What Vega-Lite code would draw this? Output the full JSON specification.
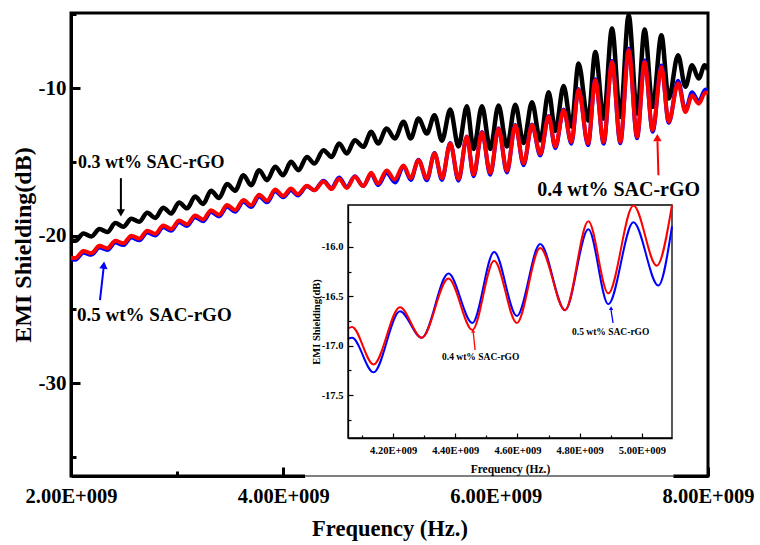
{
 "$schema": "https://vega.github.io/schema/vega-lite/v6.json",
 "width": 637,
 "height": 463,
 "autosize": {"type": "none"},
 "padding": {"left": 71, "top": 13, "right": 52, "bottom": 69},
 "background": "white",
 "config": {
  "view": {"stroke": "black", "strokeWidth": 3},
  "font": "Liberation Serif"
 },
 "datasets": {
  "black": [
   {"f":2.000,"v":-20.30},{"f":2.041,"v":-20.35},{"f":2.117,"v":-19.85},{"f":2.192,"v":-20.05},{"f":2.268,"v":-19.55},{"f":2.343,"v":-19.75},{"f":2.418,"v":-19.15},{"f":2.493,"v":-19.40},{"f":2.568,"v":-18.85},{"f":2.644,"v":-19.05},{"f":2.718,"v":-18.45},{"f":2.794,"v":-18.80},{"f":2.869,"v":-18.10},{"f":2.943,"v":-18.50},{"f":3.018,"v":-17.75},{"f":3.093,"v":-18.15},{"f":3.169,"v":-17.35},{"f":3.244,"v":-17.85},{"f":3.319,"v":-16.95},{"f":3.395,"v":-17.45},{"f":3.470,"v":-16.50},{"f":3.546,"v":-16.95},{"f":3.624,"v":-15.90},{"f":3.697,"v":-16.58},{"f":3.772,"v":-15.56},{"f":3.847,"v":-16.24},{"f":3.923,"v":-15.33},{"f":3.998,"v":-15.90},{"f":4.072,"v":-14.99},{"f":4.142,"v":-15.56},{"f":4.222,"v":-14.66},{"f":4.292,"v":-15.11},{"f":4.378,"v":-14.20},{"f":4.455,"v":-14.66},{"f":4.525,"v":-13.75},{"f":4.598,"v":-14.43},{"f":4.673,"v":-13.53},{"f":4.753,"v":-13.97},{"f":4.828,"v":-12.96},{"f":4.892,"v":-13.75},{"f":4.973,"v":-12.73},{"f":5.050,"v":-13.41},{"f":5.132,"v":-12.28},{"f":5.200,"v":-13.41},{"f":5.273,"v":-12.06},{"f":5.352,"v":-13.07},{"f":5.424,"v":-11.83},{"f":5.494,"v":-13.56},{"f":5.572,"v":-11.45},{"f":5.650,"v":-13.95},{"f":5.729,"v":-11.23},{"f":5.792,"v":-14.12},{"f":5.871,"v":-11.23},{"f":5.949,"v":-14.12},{"f":6.027,"v":-11.17},{"f":6.106,"v":-13.95},{"f":6.185,"v":-11.12},{"f":6.263,"v":-13.72},{"f":6.342,"v":-10.95},{"f":6.420,"v":-13.55},{"f":6.499,"v":-10.28},{"f":6.562,"v":-12.90},{"f":6.640,"v":-9.85},{"f":6.713,"v":-12.60},{"f":6.781,"v":-8.33},{"f":6.870,"v":-12.20},{"f":6.939,"v":-7.54},{"f":7.017,"v":-12.06},{"f":7.096,"v":-5.95},{"f":7.174,"v":-11.95},{"f":7.253,"v":-5.05},{"f":7.332,"v":-11.72},{"f":7.403,"v":-6.02},{"f":7.479,"v":-11.27},{"f":7.561,"v":-6.41},{"f":7.630,"v":-10.70},{"f":7.718,"v":-7.76},{"f":7.787,"v":-9.91},{"f":7.850,"v":-8.44},{"f":7.912,"v":-9.34},{"f":7.969,"v":-8.44},{"f":8.000,"v":-8.75}
  ],
  "red": [
   {"f":2.000,"v":-21.50},{"f":2.041,"v":-21.51},{"f":2.117,"v":-21.04},{"f":2.192,"v":-21.18},{"f":2.268,"v":-20.69},{"f":2.343,"v":-20.85},{"f":2.418,"v":-20.35},{"f":2.493,"v":-20.52},{"f":2.568,"v":-20.00},{"f":2.644,"v":-20.20},{"f":2.718,"v":-19.66},{"f":2.794,"v":-19.87},{"f":2.869,"v":-19.31},{"f":2.943,"v":-19.55},{"f":3.018,"v":-18.97},{"f":3.093,"v":-19.22},{"f":3.169,"v":-18.63},{"f":3.244,"v":-18.90},{"f":3.319,"v":-18.28},{"f":3.395,"v":-18.58},{"f":3.470,"v":-17.92},{"f":3.546,"v":-18.26},{"f":3.624,"v":-17.58},{"f":3.697,"v":-17.94},{"f":3.772,"v":-17.22},{"f":3.847,"v":-17.62},{"f":3.923,"v":-16.87},{"f":3.998,"v":-17.30},{"f":4.072,"v":-16.81},{"f":4.137,"v":-17.19},{"f":4.222,"v":-16.61},{"f":4.292,"v":-16.92},{"f":4.378,"v":-16.32},{"f":4.455,"v":-16.84},{"f":4.525,"v":-16.14},{"f":4.598,"v":-16.77},{"f":4.673,"v":-16.01},{"f":4.753,"v":-16.64},{"f":4.828,"v":-15.74},{"f":4.892,"v":-16.47},{"f":4.973,"v":-15.58},{"f":5.048,"v":-16.19},{"f":5.132,"v":-15.25},{"f":5.200,"v":-16.10},{"f":5.273,"v":-14.88},{"f":5.352,"v":-16.12},{"f":5.424,"v":-14.43},{"f":5.494,"v":-16.10},{"f":5.572,"v":-13.75},{"f":5.650,"v":-16.15},{"f":5.729,"v":-13.30},{"f":5.792,"v":-15.85},{"f":5.871,"v":-13.00},{"f":5.949,"v":-15.75},{"f":6.027,"v":-12.75},{"f":6.106,"v":-15.60},{"f":6.185,"v":-12.53},{"f":6.263,"v":-15.10},{"f":6.342,"v":-12.50},{"f":6.420,"v":-14.45},{"f":6.499,"v":-11.92},{"f":6.562,"v":-13.95},{"f":6.640,"v":-11.49},{"f":6.713,"v":-13.65},{"f":6.781,"v":-10.10},{"f":6.870,"v":-13.75},{"f":6.939,"v":-9.46},{"f":7.017,"v":-13.64},{"f":7.096,"v":-8.22},{"f":7.174,"v":-13.64},{"f":7.253,"v":-7.42},{"f":7.332,"v":-13.30},{"f":7.403,"v":-8.22},{"f":7.479,"v":-12.85},{"f":7.561,"v":-8.56},{"f":7.630,"v":-12.28},{"f":7.718,"v":-9.68},{"f":7.787,"v":-11.61},{"f":7.850,"v":-10.50},{"f":7.912,"v":-11.05},{"f":7.975,"v":-10.30},{"f":8.000,"v":-10.35}
  ],
  "blue": [
   {"f":2.000,"v":-21.62},{"f":2.041,"v":-21.63},{"f":2.117,"v":-21.16},{"f":2.192,"v":-21.30},{"f":2.268,"v":-20.81},{"f":2.343,"v":-20.97},{"f":2.418,"v":-20.47},{"f":2.493,"v":-20.64},{"f":2.568,"v":-20.12},{"f":2.644,"v":-20.32},{"f":2.718,"v":-19.78},{"f":2.794,"v":-19.99},{"f":2.869,"v":-19.43},{"f":2.943,"v":-19.67},{"f":3.018,"v":-19.09},{"f":3.093,"v":-19.34},{"f":3.169,"v":-18.75},{"f":3.244,"v":-19.02},{"f":3.319,"v":-18.40},{"f":3.395,"v":-18.70},{"f":3.470,"v":-18.04},{"f":3.546,"v":-18.38},{"f":3.624,"v":-17.70},{"f":3.697,"v":-18.06},{"f":3.772,"v":-17.34},{"f":3.847,"v":-17.74},{"f":3.923,"v":-16.99},{"f":3.998,"v":-17.40},{"f":4.072,"v":-16.92},{"f":4.137,"v":-17.27},{"f":4.222,"v":-16.65},{"f":4.292,"v":-16.92},{"f":4.378,"v":-16.27},{"f":4.455,"v":-16.77},{"f":4.525,"v":-16.05},{"f":4.598,"v":-16.70},{"f":4.673,"v":-15.97},{"f":4.753,"v":-16.64},{"f":4.828,"v":-15.82},{"f":4.892,"v":-16.58},{"f":4.973,"v":-15.75},{"f":5.053,"v":-16.39},{"f":5.132,"v":-15.30},{"f":5.200,"v":-16.22},{"f":5.273,"v":-14.85},{"f":5.352,"v":-16.24},{"f":5.424,"v":-14.40},{"f":5.494,"v":-16.22},{"f":5.572,"v":-13.72},{"f":5.650,"v":-16.27},{"f":5.729,"v":-13.27},{"f":5.792,"v":-15.97},{"f":5.871,"v":-12.97},{"f":5.949,"v":-15.87},{"f":6.027,"v":-12.72},{"f":6.106,"v":-15.72},{"f":6.185,"v":-12.50},{"f":6.263,"v":-15.22},{"f":6.342,"v":-12.47},{"f":6.420,"v":-14.57},{"f":6.499,"v":-11.89},{"f":6.562,"v":-14.07},{"f":6.640,"v":-11.45},{"f":6.713,"v":-13.77},{"f":6.781,"v":-10.05},{"f":6.870,"v":-13.87},{"f":6.939,"v":-9.40},{"f":7.017,"v":-13.76},{"f":7.096,"v":-8.15},{"f":7.174,"v":-13.74},{"f":7.253,"v":-7.32},{"f":7.332,"v":-13.40},{"f":7.403,"v":-8.12},{"f":7.479,"v":-12.95},{"f":7.561,"v":-8.46},{"f":7.630,"v":-12.35},{"f":7.718,"v":-9.50},{"f":7.787,"v":-11.50},{"f":7.850,"v":-10.28},{"f":7.912,"v":-10.90},{"f":7.975,"v":-10.08},{"f":8.000,"v":-10.12}
  ],
  "redInset": [
   {"f":4.055,"v":-16.825},{"f":4.068,"v":-16.81},{"f":4.137,"v":-17.19},{"f":4.222,"v":-16.61},{"f":4.292,"v":-16.92},{"f":4.378,"v":-16.32},{"f":4.455,"v":-16.84},{"f":4.525,"v":-16.14},{"f":4.598,"v":-16.77},{"f":4.673,"v":-16.01},{"f":4.753,"v":-16.64},{"f":4.828,"v":-15.74},{"f":4.892,"v":-16.47},{"f":4.973,"v":-15.58},{"f":5.048,"v":-16.19},{"f":5.097,"v":-15.575}
  ],
  "blueInset": [
   {"f":4.055,"v":-16.93},{"f":4.068,"v":-16.92},{"f":4.137,"v":-17.27},{"f":4.222,"v":-16.65},{"f":4.292,"v":-16.92},{"f":4.378,"v":-16.27},{"f":4.455,"v":-16.77},{"f":4.525,"v":-16.05},{"f":4.598,"v":-16.70},{"f":4.673,"v":-15.97},{"f":4.753,"v":-16.64},{"f":4.828,"v":-15.82},{"f":4.892,"v":-16.58},{"f":4.973,"v":-15.75},{"f":5.053,"v":-16.39},{"f":5.097,"v":-15.79}
  ]
 },
 "layer": [
  {
   "layer": [
    {
     "data": {"name": "black"},
     "mark": {"type": "line", "interpolate": "monotone", "color": "black", "strokeWidth": 4.5, "clip": true},
     "encoding": {
      "x": {"field": "f", "type": "quantitative",
       "scale": {"domain": [2, 8], "nice": false, "zero": false},
       "axis": {"orient": "bottom", "values": [2,3,4,5,6,7,8], "grid": false,
        "labelExpr": "datum.value % 2 === 0 ? format(datum.value, '.2f') + 'E+009' : ''",
        "tickSize": {"condition": {"test": "datum.value % 2 === 0", "value": -9}, "value": -5},
        "tickWidth": 3, "tickColor": "black", "domainColor": "black", "domainWidth": 3,
        "labelFont": "Liberation Serif", "labelFontSize": 20.5, "labelFontWeight": "bold", "labelColor": "black",
        "labelPadding": 19, "labelFlush": false, "labelOverlap": false,
        "title": "Frequency (Hz.)", "titleFont": "Liberation Serif", "titleFontSize": 22.5, "titleFontWeight": "bold", "titleColor": "black", "titlePadding": 7}},
      "y": {"field": "v", "type": "quantitative",
       "scale": {"domain": [-36.3, -4.9], "nice": false, "zero": false},
       "axis": {"orient": "left", "values": [-35,-30,-25,-20,-15,-10,-5], "grid": false,
        "labelExpr": "datum.value % 10 === 0 ? '' + datum.value : ''",
        "tickSize": {"condition": {"test": "datum.value % 10 === 0", "value": -9}, "value": -5},
        "tickWidth": 3, "tickColor": "black", "domainColor": "black", "domainWidth": 3,
        "labelFont": "Liberation Serif", "labelFontSize": 21, "labelFontWeight": "bold", "labelColor": "black",
        "labelPadding": 14, "labelFlush": false, "labelOverlap": false,
        "title": "EMI Shielding(dB)", "titleFont": "Liberation Serif", "titleFontSize": 24, "titleFontWeight": "bold", "titleColor": "black", "titlePadding": 3}}
     }
    },
    {
     "data": {"name": "blue"},
     "mark": {"type": "line", "interpolate": "monotone", "color": "#0000ff", "strokeWidth": 4, "clip": true},
     "encoding": {"x": {"field": "f", "type": "quantitative"}, "y": {"field": "v", "type": "quantitative"}}
    },
    {
     "data": {"name": "red"},
     "mark": {"type": "line", "interpolate": "monotone", "color": "#ff0000", "strokeWidth": 4, "clip": true},
     "encoding": {"x": {"field": "f", "type": "quantitative"}, "y": {"field": "v", "type": "quantitative"}}
    },
    {
     "data": {"values": [{"f": 4.205, "v": -36.65, "f2": 7.674, "v2": -35.55}]},
     "mark": {"type": "rect", "fill": "white", "strokeWidth": 0},
     "encoding": {"x": {"field": "f", "type": "quantitative"}, "x2": {"field": "f2"}, "y": {"field": "v", "type": "quantitative"}, "y2": {"field": "v2"}}
    },
    {
     "data": {"values": [{"f": 4.205, "v": -36.3, "f2": 7.674}]},
     "mark": {"type": "rule", "color": "black", "strokeWidth": 1.2},
     "encoding": {"x": {"field": "f", "type": "quantitative"}, "x2": {"field": "f2"}, "y": {"field": "v", "type": "quantitative"}}
    },
    {
     "data": {"values": [{"f": 2.066, "v": -15.08, "t": "0.3 wt% SAC-rGO"}]},
     "mark": {"type": "text", "align": "left", "baseline": "middle", "font": "Liberation Serif", "fontWeight": "bold", "fontSize": 18, "color": "black"},
     "encoding": {"x": {"field": "f", "type": "quantitative"}, "y": {"field": "v", "type": "quantitative"}, "text": {"field": "t"}}
    },
    {
     "data": {"values": [{"f": 2.057, "v": -25.39, "t": "0.5 wt% SAC-rGO"}]},
     "mark": {"type": "text", "align": "left", "baseline": "middle", "font": "Liberation Serif", "fontWeight": "bold", "fontSize": 19, "color": "black"},
     "encoding": {"x": {"field": "f", "type": "quantitative"}, "y": {"field": "v", "type": "quantitative"}, "text": {"field": "t"}}
    },
    {
     "data": {"values": [{"f": 6.392, "v": -16.92, "t": "0.4 wt% SAC-rGO"}]},
     "mark": {"type": "text", "align": "left", "baseline": "middle", "font": "Liberation Serif", "fontWeight": "bold", "fontSize": 20, "color": "black"},
     "encoding": {"x": {"field": "f", "type": "quantitative"}, "y": {"field": "v", "type": "quantitative"}, "text": {"field": "t"}}
    },
    {
     "data": {"values": [{"f": 2.47, "v": -16.1, "f2": 2.47, "v2": -18.3}]},
     "mark": {"type": "rule", "color": "black", "strokeWidth": 2},
     "encoding": {"x": {"field": "f", "type": "quantitative"}, "x2": {"field": "f2"}, "y": {"field": "v", "type": "quantitative"}, "y2": {"field": "v2"}}
    },
    {
     "data": {"values": [{"f": 2.47, "v": -18.45}]},
     "mark": {"type": "point", "shape": "triangle-down", "filled": true, "color": "black", "opacity": 1, "size": 70},
     "encoding": {"x": {"field": "f", "type": "quantitative"}, "y": {"field": "v", "type": "quantitative"}}
    },
    {
     "data": {"values": [{"f": 2.273, "v": -24.37, "f2": 2.307, "v2": -22.2}]},
     "mark": {"type": "rule", "color": "#0000ff", "strokeWidth": 2},
     "encoding": {"x": {"field": "f", "type": "quantitative"}, "x2": {"field": "f2"}, "y": {"field": "v", "type": "quantitative"}, "y2": {"field": "v2"}}
    },
    {
     "data": {"values": [{"f": 2.309, "v": -22.0}]},
     "mark": {"type": "point", "shape": "triangle-up", "filled": true, "color": "#0000ff", "opacity": 1, "size": 70, "angle": 6},
     "encoding": {"x": {"field": "f", "type": "quantitative"}, "y": {"field": "v", "type": "quantitative"}}
    },
    {
     "data": {"values": [{"f": 7.533, "v": -15.9, "f2": 7.524, "v2": -13.6}]},
     "mark": {"type": "rule", "color": "#ff0000", "strokeWidth": 2},
     "encoding": {"x": {"field": "f", "type": "quantitative"}, "x2": {"field": "f2"}, "y": {"field": "v", "type": "quantitative"}, "y2": {"field": "v2"}}
    },
    {
     "data": {"values": [{"f": 7.523, "v": -13.35}]},
     "mark": {"type": "point", "shape": "triangle-up", "filled": true, "color": "#ff0000", "opacity": 1, "size": 70},
     "encoding": {"x": {"field": "f", "type": "quantitative"}, "y": {"field": "v", "type": "quantitative"}}
    }
   ]
  },
  {
   "layer": [
    {
     "data": {"values": [{"f": 4.055, "v": -17.935, "f2": 5.097, "v2": -15.575}]},
     "mark": {"type": "rect", "fill": "white", "stroke": "black", "strokeWidth": 1.3},
     "encoding": {
      "x": {"field": "f", "type": "quantitative",
       "scale": {"domain": [4.055, 5.097], "range": [277, 601], "nice": false, "zero": false},
       "axis": {"orient": "bottom", "offset": -38, "zindex": 1, "values": [4.1,4.2,4.3,4.4,4.5,4.6,4.7,4.8,4.9,5.0], "grid": false,
        "labelExpr": "round(datum.value * 10) % 2 === 0 ? format(datum.value, '.2f') + 'E+009' : ''",
        "tickSize": {"condition": {"test": "round(datum.value * 10) % 2 === 0", "value": -5}, "value": -3},
        "tickWidth": 1.2, "tickColor": "black", "domainColor": "black", "domainWidth": 1.3,
        "labelFont": "Liberation Serif", "labelFontSize": 10.5, "labelFontWeight": "bold", "labelColor": "black",
        "labelPadding": 12, "labelFlush": false, "labelOverlap": false,
        "title": "Frequency (Hz.)", "titleFont": "Liberation Serif", "titleFontSize": 11.5, "titleFontWeight": "bold", "titleColor": "black", "titlePadding": 6}},
      "x2": {"field": "f2"},
      "y": {"field": "v", "type": "quantitative",
       "scale": {"domain": [-17.935, -15.575], "range": [425, 192], "nice": false, "zero": false},
       "axis": {"orient": "left", "offset": -277, "zindex": 1, "values": [-17.75,-17.5,-17.25,-17,-16.75,-16.5,-16.25,-16,-15.75], "grid": false,
        "labelExpr": "abs(round(datum.value * 4)) % 2 === 0 ? '-' + format(-datum.value, '.1f') : ''",
        "tickSize": {"condition": {"test": "abs(round(datum.value * 4)) % 2 === 0", "value": -5}, "value": -3},
        "tickWidth": 1.2, "tickColor": "black", "domainColor": "black", "domainWidth": 1.3,
        "labelFont": "Liberation Serif", "labelFontSize": 10.5, "labelFontWeight": "bold", "labelColor": "black",
        "labelPadding": 10, "labelFlush": false, "labelOverlap": false,
        "title": "EMI Shielding(dB)", "titleFont": "Liberation Serif", "titleFontSize": 10.5, "titleFontWeight": "bold", "titleColor": "black", "titlePadding": 0}},
      "y2": {"field": "v2"}
     }
    },
    {
     "data": {"name": "blueInset"},
     "mark": {"type": "line", "interpolate": "monotone", "color": "#0000ff", "strokeWidth": 2},
     "encoding": {"x": {"field": "f", "type": "quantitative"}, "y": {"field": "v", "type": "quantitative"}}
    },
    {
     "data": {"name": "redInset"},
     "mark": {"type": "line", "interpolate": "monotone", "color": "#ff0000", "strokeWidth": 2},
     "encoding": {"x": {"field": "f", "type": "quantitative"}, "y": {"field": "v", "type": "quantitative"}}
    },
    {
     "data": {"values": [{"f": 4.3576, "v": -17.114, "t": "0.4 wt% SAC-rGO"}, {"f": 4.7756, "v": -16.861, "t": "0.5 wt% SAC-rGO"}]},
     "mark": {"type": "text", "align": "left", "baseline": "middle", "font": "Liberation Serif", "fontWeight": "bold", "fontSize": 9.5, "color": "black"},
     "encoding": {"x": {"field": "f", "type": "quantitative"}, "y": {"field": "v", "type": "quantitative"}, "text": {"field": "t"}}
    },
    {
     "data": {"values": [{"f": 4.4637, "v": -17.044, "f2": 4.458, "v2": -16.87}]},
     "mark": {"type": "rule", "color": "#ff0000", "strokeWidth": 1.3},
     "encoding": {"x": {"field": "f", "type": "quantitative"}, "x2": {"field": "f2"}, "y": {"field": "v", "type": "quantitative"}, "y2": {"field": "v2"}}
    },
    {
     "data": {"values": [{"f": 4.4575, "v": -16.85}]},
     "mark": {"type": "point", "shape": "triangle-up", "filled": true, "color": "#ff0000", "opacity": 1, "size": 18},
     "encoding": {"x": {"field": "f", "type": "quantitative"}, "y": {"field": "v", "type": "quantitative"}}
    },
    {
     "data": {"values": [{"f": 4.9074, "v": -16.77, "f2": 4.901, "v2": -16.64}]},
     "mark": {"type": "rule", "color": "#0000ff", "strokeWidth": 1.3},
     "encoding": {"x": {"field": "f", "type": "quantitative"}, "x2": {"field": "f2"}, "y": {"field": "v", "type": "quantitative"}, "y2": {"field": "v2"}}
    },
    {
     "data": {"values": [{"f": 4.901, "v": -16.62}]},
     "mark": {"type": "point", "shape": "triangle-up", "filled": true, "color": "#0000ff", "opacity": 1, "size": 18},
     "encoding": {"x": {"field": "f", "type": "quantitative"}, "y": {"field": "v", "type": "quantitative"}}
    }
   ]
  }
 ],
 "resolve": {"scale": {"x": "independent", "y": "independent"}}
}
